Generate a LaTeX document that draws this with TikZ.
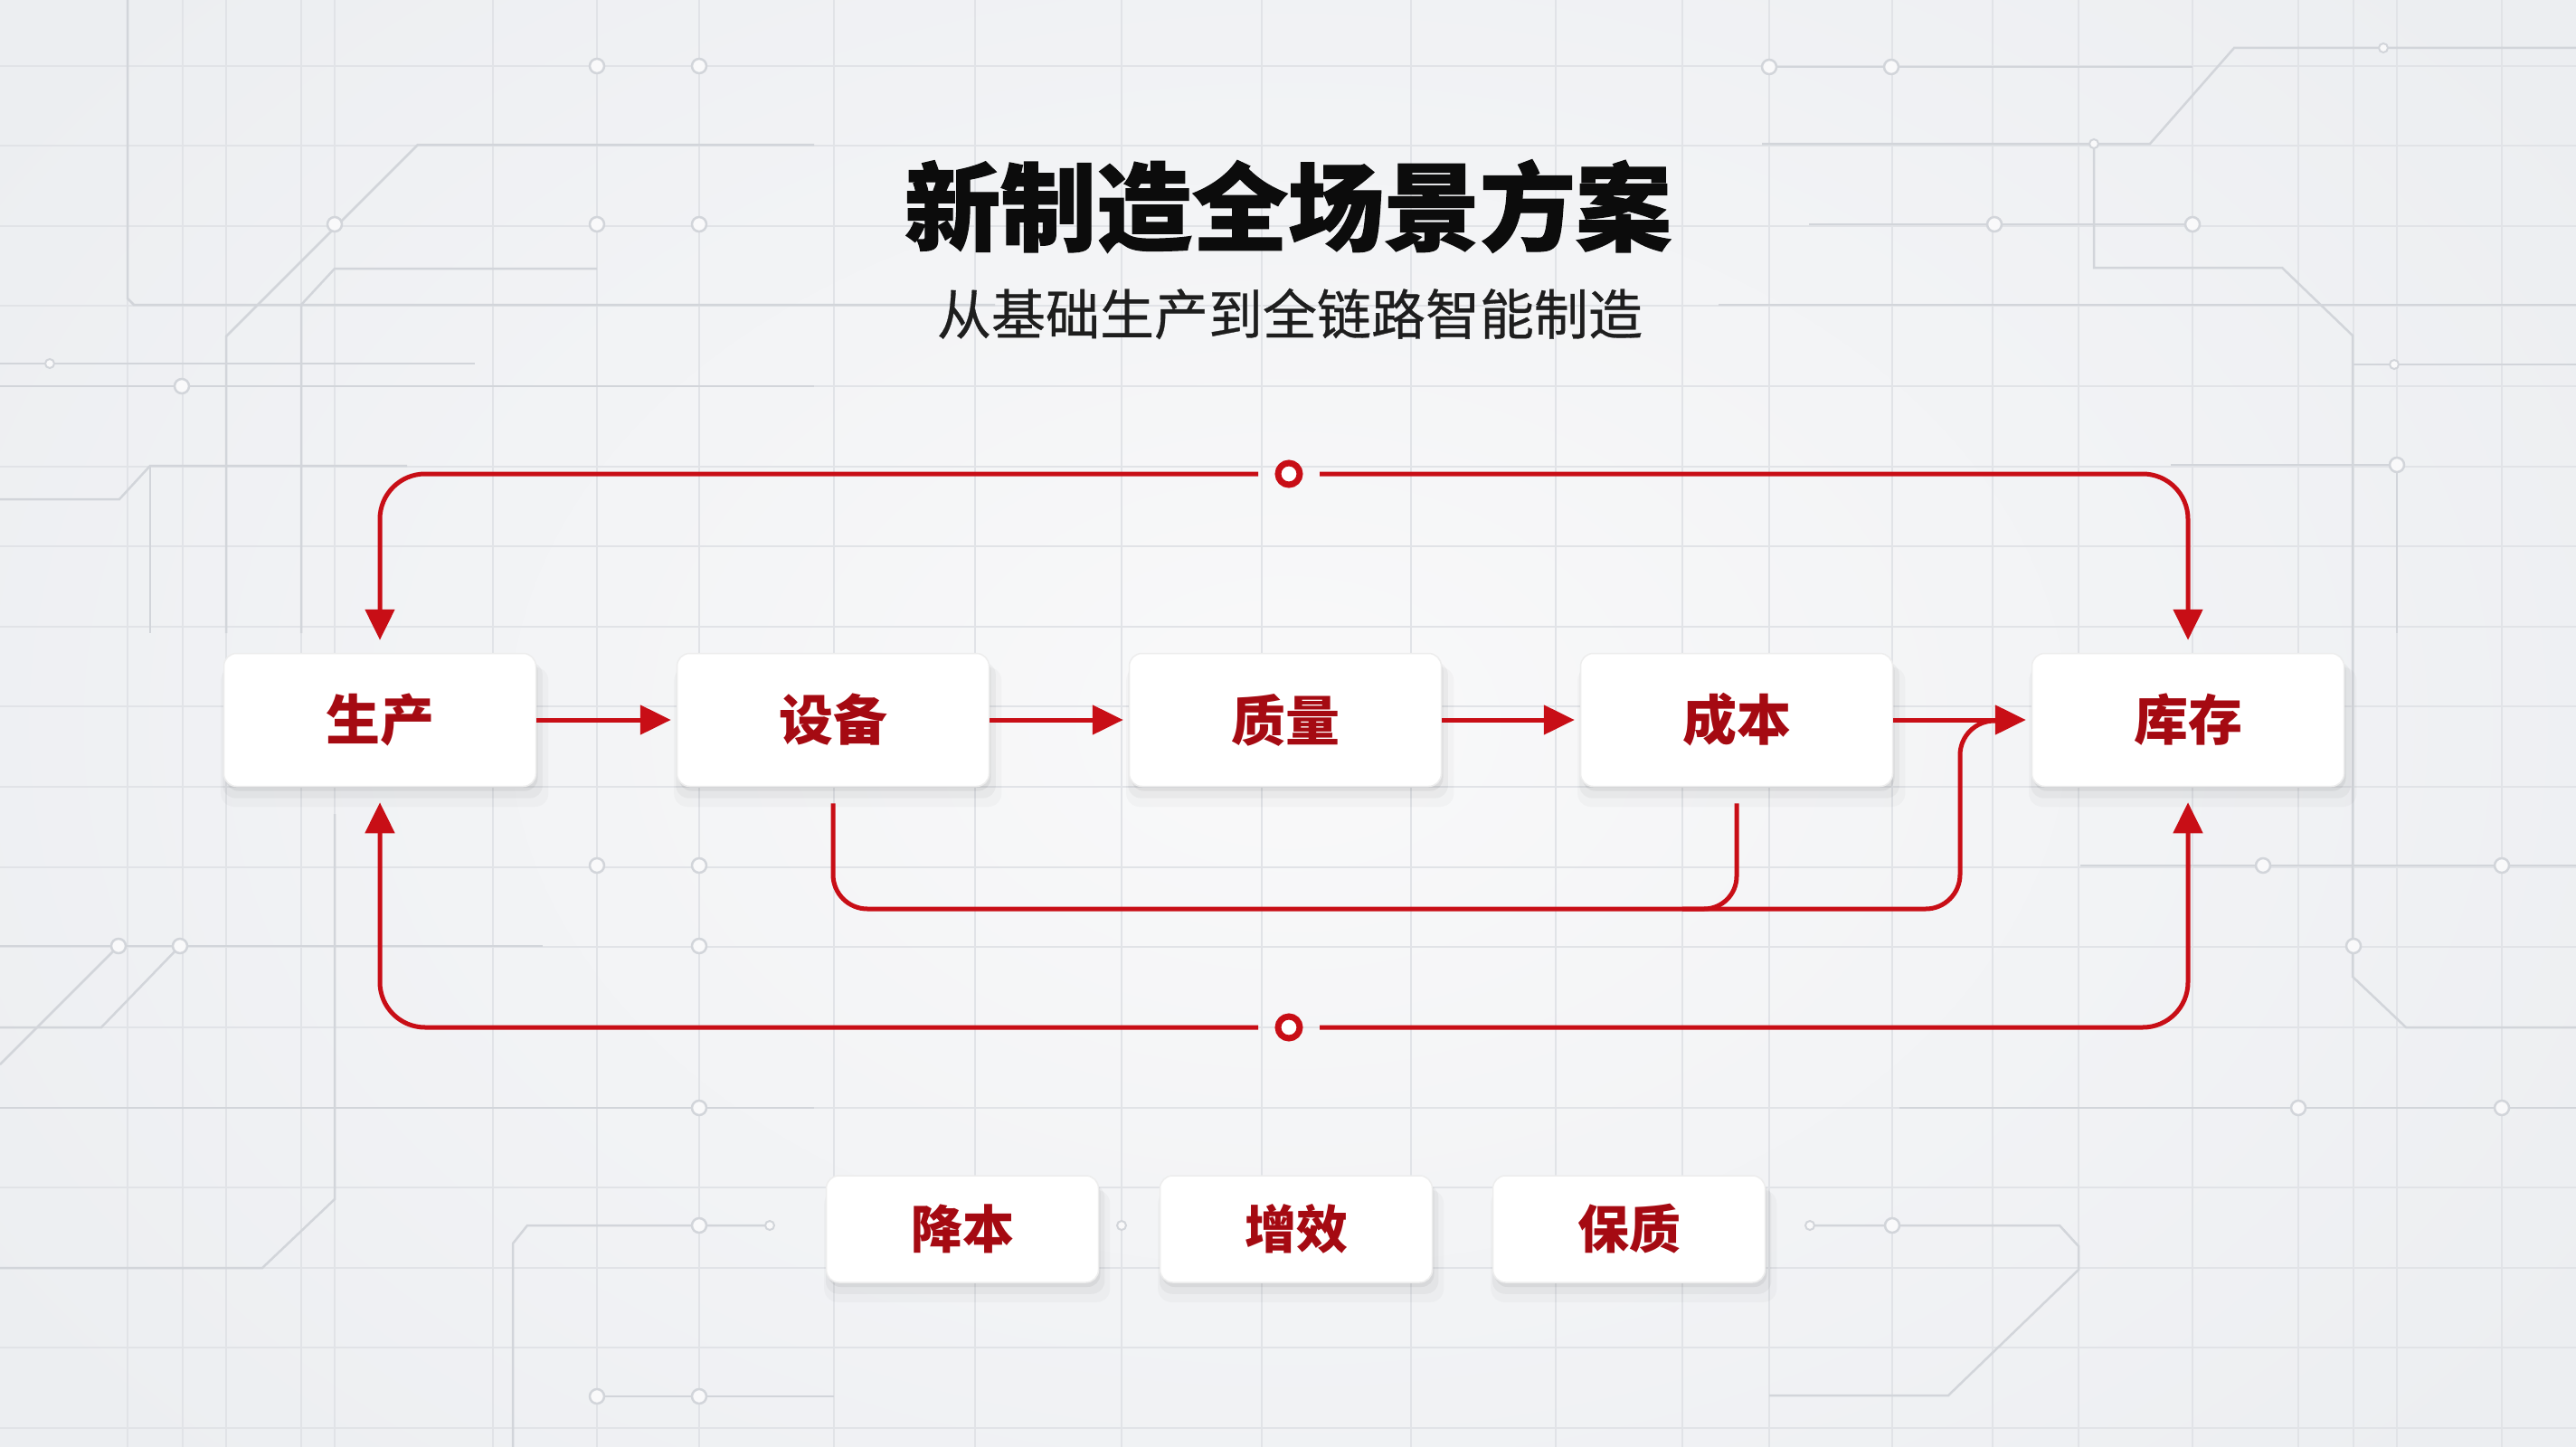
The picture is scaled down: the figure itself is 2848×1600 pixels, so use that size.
\documentclass[tikz,border=0pt]{standalone}
\usepackage{fontspec}
\setmainfont{Noto Sans CJK SC}
\usetikzlibrary{arrows.meta,shadows,calc}
\definecolor{bgc}{RGB}{236,238,241}
\definecolor{bgl}{RGB}{249,249,250}
\definecolor{gridc}{RGB}{225,227,231}
\definecolor{tracec}{RGB}{210,213,218}
\definecolor{flowred}{RGB}{200,14,22}
\definecolor{txtred}{RGB}{165,10,18}
\definecolor{titlec}{RGB}{12,12,12}
\definecolor{subc}{RGB}{30,30,30}
\begin{document}
\begin{tikzpicture}[x=1pt,y=-1pt,
  box/.style={rounded corners=14pt, fill=white, draw=black!7, line width=1.5pt, inner sep=0pt,
     text=txtred,
     general shadow={fill=black, opacity=0.025, shadow yshift=-18pt, shadow xshift=5pt, shadow scale=1.05},
     general shadow={fill=black, opacity=0.035, shadow yshift=-11pt, shadow xshift=3pt, shadow scale=1.025},
     general shadow={fill=black, opacity=0.05, shadow yshift=-5pt, shadow xshift=2pt}},
  bigbox/.style={box, minimum width=345pt, minimum height=147pt, font=\bfseries\fontsize{60}{60}\selectfont},
  smallbox/.style={box, minimum width=301pt, minimum height=118pt, font=\bfseries\fontsize{57}{57}\selectfont},
  flow/.style={draw=flowred, line width=5pt, -{Triangle[length=34pt,width=32pt]}},
  link/.style={draw=flowred, line width=5pt},
  ring/.style={circle, draw=flowred, line width=7pt, fill=white, minimum size=24pt, inner sep=0pt, outer sep=22pt},
  gridline/.style={draw=gridc, line width=1.5pt},
  trace/.style={draw=tracec, line width=2.5pt},
  pin/.style={circle, draw=tracec, line width=2.5pt, fill=bgl, minimum size=16pt, inner sep=0pt},
  dot/.style={circle, draw=tracec, line width=2pt, fill=bgl, minimum size=10pt, inner sep=0pt},
]
% background
\useasboundingbox (0,0) rectangle (2848,1600);
\fill[bgc] (0,0) rectangle (2848,1600);
\shade[inner color=bgl, outer color=bgc] (-300,-400) rectangle (3148,2000);

% faint grid
\foreach \yy in {73,161,250,338,427,516,604,693,781,870,959,1047,1136,1225,1313,1402,1490,1579}
  \draw[gridline] (0,\yy) -- (2848,\yy);
\foreach \xx in {141,202,250,333,370,545,660,773,922,1078,1240,1395,1560,1720,1860,1956,2092,2203,2298,2424,2541,2602,2650,2766}
  \draw[gridline] (\xx,0) -- (\xx,1600);

% circuit traces - left
\draw[trace] (141,0) -- (141,330) -- (148,337) -- (1100,337);
\draw[trace] (900,160) -- (462,160) -- (250,372) -- (250,700);
\draw[trace] (660,297) -- (370,297) -- (333,337) -- (333,700);
\draw[trace] (0,402) -- (525,402);
\draw[trace] (0,427) -- (900,427);
\draw[trace] (0,552) -- (132,552) -- (166,515) -- (450,515);
\draw[trace] (166,515) -- (166,700);
\draw[trace] (0,1177) -- (131,1046);
\draw[trace] (0,1136) -- (112,1136) -- (199,1046);
\draw[trace] (0,1046) -- (600,1046);
\draw[trace] (370,900) -- (370,1326) -- (290,1402) -- (0,1402);
\draw[trace] (851,1355) -- (583,1355) -- (567,1375) -- (567,1600);
\draw[trace] (660,1544) -- (922,1544);
\draw[trace] (0,1225) -- (900,1225);
% circuit traces - right
\draw[trace] (2848,53) -- (2470,53) -- (2377,159) -- (1948,159);
\draw[trace] (2315,159) -- (2315,296) -- (2523,296) -- (2601,371) -- (2601,1080) -- (2660,1136) -- (2848,1136);
\draw[trace] (2601,403) -- (2848,403);
\draw[trace] (2400,514) -- (2650,514) -- (2650,700);
\draw[trace] (1948,74) -- (2424,74);
\draw[trace] (2000,248) -- (2424,248);
\draw[trace] (2001,1355) -- (2277,1355) -- (2298,1378) -- (2298,1404) -- (2154,1543) -- (1956,1543);
\draw[trace] (2300,957) -- (2848,957);
\draw[trace] (2100,1225) -- (2848,1225);
\draw[trace] (1900,337) -- (2848,337);
% pins
\foreach \px/\py in {660/73,773/73,370/248,660/248,773/248,201/427,773/1046,773/957,660/957,131/1046,199/1046,773/1225,773/1355,660/1544,773/1544,1956/74,2091/74,2205/248,2424/248,2650/514,2092/1355,2502/957,2766/957,2541/1225,2766/1225,2602/1046}
  \node[pin] at (\px,\py) {};
\foreach \px/\py in {55/402,851/1355,2635/53,2315/159,2647/403,2001/1355,1078/1355,1240/1355}
  \node[dot] at (\px,\py) {};

% title
\node[text=titlec, font=\bfseries\fontsize{106}{110}\selectfont\addfontfeature{FakeBold=1.2}] (title) at (1424,228) {新制造全场景方案};
\node[text=subc, font=\fontsize{60}{66}\selectfont\addfontfeature{FakeBold=0.5}] (subtitle) at (1426,347) {从基础生产到全链路智能制造};

% main nodes
\node[bigbox] (p1) at (420,796) {生产};
\node[bigbox] (p2) at (921,796) {设备};
\node[bigbox] (p3) at (1421,796) {质量};
\node[bigbox] (p4) at (1920,796) {成本};
\node[bigbox] (p5) at (2419,796) {库存};

% rings
\node[ring] (rt) at (1425,524) {};
\node[ring] (rb) at (1425,1136) {};

% loops
\draw[flow, rounded corners=50pt, shorten >=14pt] (rt.west) -| (p1.north);
\draw[flow, rounded corners=50pt, shorten >=14pt] (rt.east) -| (p5.north);
\draw[flow, rounded corners=50pt, shorten >=17pt] (rb.west) -| (p1.south);
\draw[flow, rounded corners=50pt, shorten >=17pt] (rb.east) -| (p5.south);

% bus from 设备 and 成本 into 库存
\coordinate (m1) at (2167,1005);
\coordinate (m2) at (2215,797);
\coordinate (j1) at (1860,1005);
\draw[link, rounded corners=38pt] ([yshift=-18pt]p2.south) |- (m1) |- (m2);
\draw[link, rounded corners=36pt] ([yshift=-18pt]p4.south) |- (j1);

% chain arrows
\draw[flow, shorten >=6pt] (p1) -- (p2);
\draw[flow, shorten >=6pt] (p2) -- (p3);
\draw[flow, shorten >=6pt] (p3) -- (p4);
\draw[flow, shorten >=6pt] (p4) -- (p5);

% bottom nodes
\node[smallbox] (q1) at (1064,1359) {降本};
\node[smallbox] (q2) at (1433,1359) {增效};
\node[smallbox] (q3) at (1801,1359) {保质};
\end{tikzpicture}
\end{document}
